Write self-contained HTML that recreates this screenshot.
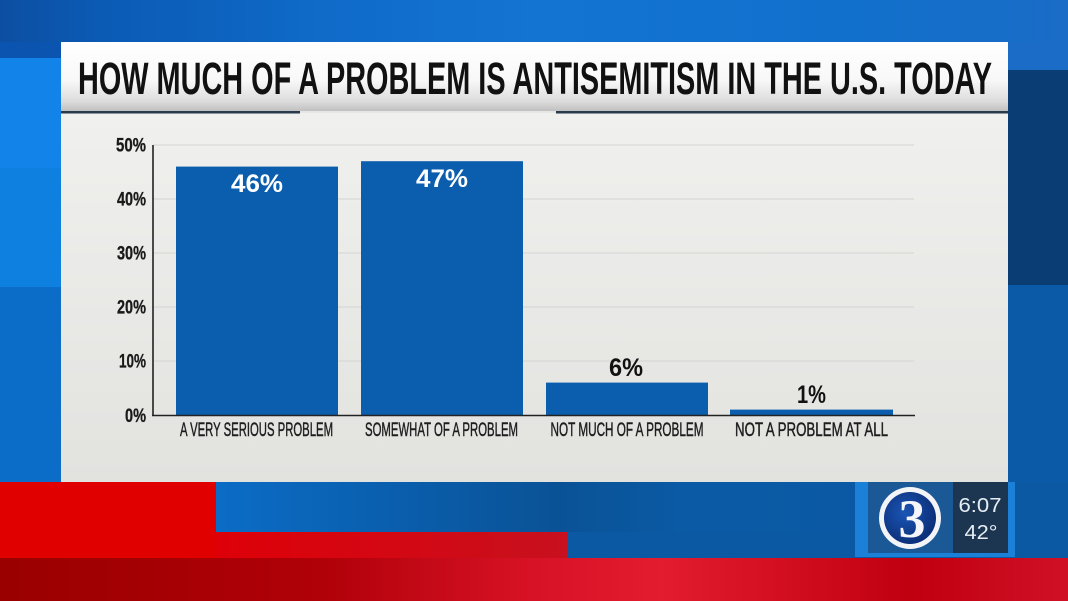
<!DOCTYPE html>
<html>
<head>
<meta charset="utf-8">
<style>
  html,body{margin:0;padding:0;background:#0d63bd;}
  body{width:1068px;height:601px;overflow:hidden;}
  svg{display:block;}
  .cond{font-family:"Liberation Sans Narrow","Liberation Sans",sans-serif;font-weight:bold;}
</style>
</head>
<body>
<svg width="1068" height="601" viewBox="0 0 1068 601" xmlns="http://www.w3.org/2000/svg">
  <defs>
    <linearGradient id="topband" x1="0" y1="0" x2="1" y2="0">
      <stop offset="0" stop-color="#0c4fa2"/>
      <stop offset="0.1" stop-color="#0b5bb5"/>
      <stop offset="0.3" stop-color="#0f6ac8"/>
      <stop offset="0.5" stop-color="#1474d2"/>
      <stop offset="0.8" stop-color="#1170cc"/>
      <stop offset="1" stop-color="#1a6cc6"/>
    </linearGradient>
    <linearGradient id="titlebar" x1="0" y1="0" x2="0" y2="1">
      <stop offset="0" stop-color="#ffffff"/>
      <stop offset="0.55" stop-color="#f8f8f8"/>
      <stop offset="0.85" stop-color="#dcdcdc"/>
      <stop offset="1" stop-color="#bdbdbd"/>
    </linearGradient>
    <linearGradient id="panel" x1="0" y1="0" x2="0" y2="1">
      <stop offset="0" stop-color="#f0f0ee"/>
      <stop offset="1" stop-color="#e2e2df"/>
    </linearGradient>
    <linearGradient id="blueband" x1="0" y1="0" x2="1" y2="0">
      <stop offset="0" stop-color="#0b6cc6"/>
      <stop offset="0.4" stop-color="#0a5296"/>
      <stop offset="0.55" stop-color="#0b5aa5"/>
      <stop offset="1" stop-color="#0b58a3"/>
    </linearGradient>
    <linearGradient id="redstrip" x1="0" y1="0" x2="1" y2="0">
      <stop offset="0" stop-color="#de0008"/>
      <stop offset="1" stop-color="#c8101e"/>
    </linearGradient>
    <linearGradient id="redbottom" x1="0" y1="0" x2="1" y2="0">
      <stop offset="0" stop-color="#9a0000"/>
      <stop offset="0.3" stop-color="#b00008"/>
      <stop offset="0.5" stop-color="#d81226"/>
      <stop offset="0.62" stop-color="#e31c30"/>
      <stop offset="0.85" stop-color="#c00010"/>
      <stop offset="1" stop-color="#d01025"/>
    </linearGradient>
    <radialGradient id="logoin" cx="0.4" cy="0.4" r="0.7">
      <stop offset="0" stop-color="#1a55b5"/>
      <stop offset="1" stop-color="#0a2a70"/>
    </radialGradient>
  </defs>

  <!-- background -->
  <rect x="0" y="0" width="1068" height="601" fill="#0d63bd"/>
  <rect x="0" y="0" width="1068" height="45" fill="url(#topband)"/>
  <!-- left strip -->
  <rect x="0" y="42" width="61" height="16" fill="#0b55b0"/>
  <rect x="0" y="58" width="61" height="110" fill="#1283e8"/>
  <rect x="0" y="168" width="61" height="119" fill="#0e80e0"/>
  <rect x="0" y="287" width="61" height="195" fill="#0b6dc8"/>
  <!-- right strip -->
  <rect x="1008" y="42" width="60" height="28" fill="#1a6cc6"/>
  <rect x="1008" y="70" width="60" height="215" fill="#0b3d75"/>
  <rect x="1008" y="285" width="60" height="197" fill="#0a5aa8"/>

  <!-- bottom area -->
  <rect x="0" y="482" width="216" height="76" fill="#e10000"/>
  <rect x="216" y="482" width="852" height="51" fill="url(#blueband)"/>
  <rect x="216" y="532" width="351" height="26" fill="url(#redstrip)"/>
  <rect x="567" y="532" width="501" height="26" fill="#0b58a3"/>
  <rect x="0" y="558" width="1068" height="43" fill="url(#redbottom)"/>

  <!-- logo box -->
  <rect x="855" y="482" width="160" height="75" fill="#1a80d8"/>
  <rect x="868" y="482" width="85" height="71" fill="#1b5896"/>
  <rect x="953" y="482" width="55" height="71" fill="#1c3550"/>
  <circle cx="910" cy="518" r="31" fill="#f2f4f8"/>
  <circle cx="910" cy="518" r="26" fill="url(#logoin)"/>
  <text x="912" y="537" text-anchor="middle" font-family="Liberation Serif, serif" font-weight="bold" font-size="54" fill="#f4f6fa">3</text>
  <text x="980" y="512" text-anchor="middle" font-family="Liberation Sans, sans-serif" font-size="20" fill="#e6edf4" textLength="43" lengthAdjust="spacingAndGlyphs">6:07</text>
  <text x="981" y="539" text-anchor="middle" font-family="Liberation Sans, sans-serif" font-size="20" fill="#e6edf4" textLength="33" lengthAdjust="spacingAndGlyphs">42°</text>

  <!-- panel -->
  <rect x="61" y="42" width="947" height="70" fill="url(#titlebar)"/>
  <rect x="61" y="113" width="947" height="369" fill="url(#panel)"/>
  <rect x="61" y="111" width="239" height="2.5" fill="#2a3a4a"/>
  <rect x="556" y="111" width="452" height="2.5" fill="#2a3a4a"/>
  <rect x="300" y="111" width="256" height="2" fill="#e6e6e4"/>

  <text class="cond" x="78" y="94" font-size="45" fill="#111" textLength="914" lengthAdjust="spacingAndGlyphs">HOW MUCH OF A PROBLEM IS ANTISEMITISM IN THE U.S. TODAY</text>

  <!-- gridlines -->
  <g stroke="#d4d4d2" stroke-width="1">
    <line x1="153" y1="145" x2="914" y2="145"/>
    <line x1="153" y1="199" x2="914" y2="199"/>
    <line x1="153" y1="253" x2="914" y2="253"/>
    <line x1="153" y1="307" x2="914" y2="307"/>
    <line x1="153" y1="361" x2="914" y2="361"/>
  </g>

  <!-- bars -->
  <g fill="#0b5dad">
    <rect x="176" y="166.6" width="162" height="248.4"/>
    <rect x="361" y="161.2" width="162" height="253.8"/>
    <rect x="546" y="382.6" width="162" height="32.4"/>
    <rect x="730" y="409.6" width="163" height="5.4"/>
  </g>

  <!-- axes -->
  <line x1="153" y1="145" x2="153" y2="415.5" stroke="#222" stroke-width="1.6"/>
  <line x1="152" y1="415.5" x2="915" y2="415.5" stroke="#222" stroke-width="1.6"/>

  <!-- y ticks -->
  <g class="cond" font-size="19" fill="#1a1a1a" stroke="#1a1a1a" stroke-width="0.3" text-anchor="end">
    <text x="146" y="151.5" textLength="30" lengthAdjust="spacingAndGlyphs">50%</text>
    <text x="146" y="205.5" textLength="29" lengthAdjust="spacingAndGlyphs">40%</text>
    <text x="146" y="259.5" textLength="29" lengthAdjust="spacingAndGlyphs">30%</text>
    <text x="146" y="313.5" textLength="29" lengthAdjust="spacingAndGlyphs">20%</text>
    <text x="146" y="367.5" textLength="27" lengthAdjust="spacingAndGlyphs">10%</text>
    <text x="146" y="422" textLength="21" lengthAdjust="spacingAndGlyphs">0%</text>
  </g>

  <!-- value labels -->
  <g class="cond" font-size="25" text-anchor="middle">
    <text x="257" y="192" fill="#ffffff" textLength="52" lengthAdjust="spacingAndGlyphs">46%</text>
    <text x="442" y="187" fill="#ffffff" textLength="52" lengthAdjust="spacingAndGlyphs">47%</text>
    <text x="626" y="376" fill="#111" textLength="34" lengthAdjust="spacingAndGlyphs">6%</text>
    <text x="811.5" y="403" fill="#111" textLength="29" lengthAdjust="spacingAndGlyphs">1%</text>
  </g>

  <!-- category labels -->
  <g font-family="Liberation Sans Narrow, Liberation Sans, sans-serif" font-size="19" fill="#1e1e1e" stroke="#1e1e1e" stroke-width="0.45" text-anchor="middle">
    <text x="256.5" y="436" textLength="153" lengthAdjust="spacingAndGlyphs">A VERY SERIOUS PROBLEM</text>
    <text x="441.5" y="436" textLength="153" lengthAdjust="spacingAndGlyphs">SOMEWHAT OF A PROBLEM</text>
    <text x="627" y="436" textLength="153" lengthAdjust="spacingAndGlyphs">NOT MUCH OF A PROBLEM</text>
    <text x="811.5" y="436" textLength="153" lengthAdjust="spacingAndGlyphs">NOT A PROBLEM AT ALL</text>
  </g>
</svg>
</body>
</html>
